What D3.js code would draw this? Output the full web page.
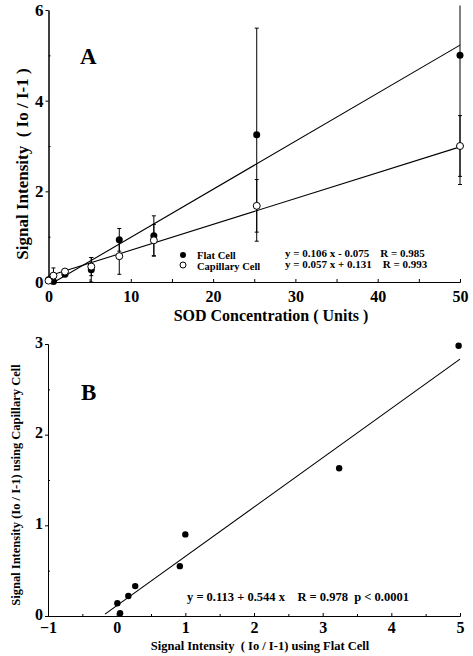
<!DOCTYPE html>
<html>
<head>
<meta charset="utf-8">
<script src="https://cdn.jsdelivr.net/npm/d3@7"></script>
<style>
  body { margin: 0; background: #fff; }
  svg { display: block; }
  svg text { font-family: "Liberation Serif", "DejaVu Serif", serif !important; font-weight: bold; fill: #000; }
  .axis path, .axis line { stroke: #000; stroke-width: 1; }
</style>
</head>
<body>
<script>
// panel A data - SOD concentration vs signal
var conc    = [0, 0.6, 2, 5.2, 8.6, 12.8, 25.3, 50];
var flat    = [0.05, 0.01, 0.17, 0.27, 0.93, 1.02, 3.25, 5.0];
var flatErr = [0.03, 0.03, 0.05, 0.27, 0.25, 0.44, 2.35, 2.85];
var cap     = [0.03, 0.14, 0.23, 0.34, 0.57, 0.92, 1.68, 3.0];
var capErr  = [0.02, 0.17, 0.05, 0.2, 0.4, 0.35, 0.58, 0.67];
var fitFlat = [0.106, -0.075];
var fitCap  = [0.057, 0.131];

// panel B data - capillary vs flat
var bFlat = [0.01, 0.05, 0.17, 0.27, 0.92, 1.0, 3.24, 4.98];
var bCap  = [0.14, 0.03, 0.22, 0.33, 0.55, 0.9, 1.63, 2.98];
var fitB  = [0.544, 0.113];

var width = 473, height = 656;
var serif = "'Liberation Serif', serif";

var svg = d3.select("body").append("svg")
    .attr("width", width)
    .attr("height", height);

//helper to style axis labels
function axisText(g, size){
    g.attr("font-family", serif);
    g.selectAll("text")
        .style("font-family", serif)
        .style("font-weight", "bold")
        .style("font-size", size);
}

// ---------- panel A ----------
var xA = d3.scaleLinear().domain([0, 50]).range([48.5, 460]);
var yA = d3.scaleLinear().domain([0, 6]).range([282, 10]);

var gA = svg.append("g");

// minor ticks (inward)
gA.append("g").attr("class", "axis")
    .attr("transform", "translate(0,282)")
    .call(d3.axisBottom(xA).tickValues([5, 15, 25, 35, 45]).tickSize(-3).tickSizeOuter(0).tickFormat(""));
gA.append("g").attr("class", "axis")
    .attr("transform", "translate(48.5,0)")
    .call(d3.axisLeft(yA).tickValues([1, 3, 5]).tickSize(-2).tickSizeOuter(0).tickFormat(""));

// major axes
gA.append("g").attr("class", "axis")
    .attr("transform", "translate(0,282)")
    .call(d3.axisBottom(xA).tickValues([0, 10, 20, 30, 40, 50]).tickSize(-3).tickSizeOuter(0).tickPadding(9)
        .tickFormat(d3.format("d")))
    .call(axisText, "16px");
gA.append("g").attr("class", "axis")
    .attr("transform", "translate(48.5,0)")
    .call(d3.axisLeft(yA).tickValues([0, 2, 4, 6]).tickSize(3).tickSizeOuter(0).tickPadding(2)
        .tickFormat(d3.format("d")))
    .call(axisText, "17px");

// fit lines
var lineA = d3.line().x(function(d){ return xA(d[0]); }).y(function(d){ return yA(d[1]); });
gA.append("path")
    .datum([[0.7, fitFlat[0]*0.7 + fitFlat[1]], [50, fitFlat[0]*50 + fitFlat[1]]])
    .attr("d", lineA).attr("fill", "none").attr("stroke", "#000").attr("stroke-width", 1.1);
gA.append("path")
    .datum([[0, fitCap[1]], [50, fitCap[0]*50 + fitCap[1]]])
    .attr("d", lineA).attr("fill", "none").attr("stroke", "#000").attr("stroke-width", 1.1);

// error bars
function errBars(vals, errs){
    conc.forEach(function(c, i){
        var top = Math.min(vals[i] + errs[i], 6.1),
            bot = Math.max(vals[i] - errs[i], 0);
        gA.append("line")
            .attr("x1", xA(c)).attr("x2", xA(c))
            .attr("y1", yA(top)).attr("y2", yA(bot))
            .attr("stroke", "#000").attr("stroke-width", 1);
        [top, bot].forEach(function(v){
            if (v >= 6.1) return;
            gA.append("line")
                .attr("x1", xA(c) - 2).attr("x2", xA(c) + 2)
                .attr("y1", yA(v)).attr("y2", yA(v))
                .attr("stroke", "#000").attr("stroke-width", 1);
        });
    });
}
errBars(flat, flatErr);
errBars(cap, capErr);

// markers
gA.selectAll(".flatPt")
    .data(conc)
    .enter()
    .append("circle")
    .attr("class", "flatPt")
    .attr("cx", function(d){ return xA(d); })
    .attr("cy", function(d, i){ return yA(flat[i]); })
    .attr("r", 3.5)
    .attr("fill", "#000");
gA.selectAll(".capPt")
    .data(conc)
    .enter()
    .append("circle")
    .attr("class", "capPt")
    .attr("cx", function(d){ return xA(d); })
    .attr("cy", function(d, i){ return yA(cap[i]); })
    .attr("r", 3.5)
    .attr("fill", "#fff")
    .attr("stroke", "#000")
    .attr("stroke-width", 1);

// legend + equations
gA.append("circle").attr("cx", 183).attr("cy", 255).attr("r", 3).attr("fill", "#000");
gA.append("circle").attr("cx", 183).attr("cy", 265).attr("r", 3).attr("fill", "#fff").attr("stroke", "#000");
gA.append("text").attr("x", 197).attr("y", 259).style("font-size", "10.5px").text("Flat Cell");
gA.append("text").attr("x", 197).attr("y", 269.5).style("font-size", "10.5px").text("Capillary Cell");
gA.append("text").attr("x", 285).attr("y", 257).style("font-size", "11px").attr("xml:space", "preserve")
    .text("y = 0.106 x - 0.075    R = 0.985");
gA.append("text").attr("x", 285).attr("y", 268).style("font-size", "11px").attr("xml:space", "preserve")
    .text("y = 0.057 x + 0.131    R = 0.993");

gA.append("text").attr("x", 80).attr("y", 64).style("font-size", "23px").text("A");

gA.append("text")
    .attr("text-anchor", "middle")
    .attr("x", 271).attr("y", 321)
    .style("font-size", "16px")
    .text("SOD Concentration ( Units )");
gA.append("text")
    .attr("text-anchor", "middle")
    .attr("transform", "translate(28,164) rotate(-90)")
    .attr("xml:space", "preserve")
    .style("font-size", "17px")
    .text("Signal Intensity  ( Io / I-1 )");

// ---------- panel B ----------
var xB = d3.scaleLinear().domain([-1, 5]).range([48, 460]);
var yB = d3.scaleLinear().domain([0, 3]).range([616, 344]);

var gB = svg.append("g");

gB.append("g").attr("class", "axis")
    .attr("transform", "translate(0,616)")
    .call(d3.axisBottom(xB).tickValues([-0.5, 0.5, 1.5, 2.5, 3.5, 4.5]).tickSize(-2).tickSizeOuter(0).tickFormat(""));
gB.append("g").attr("class", "axis")
    .attr("transform", "translate(48,0)")
    .call(d3.axisLeft(yB).tickValues([0.5, 1.5, 2.5]).tickSize(-2).tickSizeOuter(0).tickFormat(""));

gB.append("g").attr("class", "axis")
    .attr("transform", "translate(0,616)")
    .call(d3.axisBottom(xB).tickValues([-1, 0, 1, 2, 3, 4, 5]).tickSize(-3).tickSizeOuter(0).tickPadding(6)
        .tickFormat(d3.format("d")))
    .call(axisText, "16px");
gB.append("g").attr("class", "axis")
    .attr("transform", "translate(48,0)")
    .call(d3.axisLeft(yB).tickValues([0, 1, 2, 3]).tickSize(3).tickSizeOuter(0).tickPadding(2)
        .tickFormat(d3.format("d")))
    .call(axisText, "16px")
    .selectAll("text").attr("dy", "0.2em");

var lineB = d3.line().x(function(d){ return xB(d[0]); }).y(function(d){ return yB(d[1]); });
gB.append("path")
    .datum([[-0.17, fitB[0]*-0.17 + fitB[1]], [5, fitB[0]*5 + fitB[1]]])
    .attr("d", lineB).attr("fill", "none").attr("stroke", "#000").attr("stroke-width", 1.1);

gB.selectAll(".bPt")
    .data(bFlat)
    .enter()
    .append("circle")
    .attr("class", "bPt")
    .attr("cx", function(d){ return xB(d); })
    .attr("cy", function(d, i){ return yB(bCap[i]); })
    .attr("r", 3.2)
    .attr("fill", "#000");

gB.append("text").attr("x", 187).attr("y", 601).style("font-size", "12.5px").attr("xml:space", "preserve")
    .text("y = 0.113 + 0.544 x    R = 0.978  p < 0.0001");

gB.append("text").attr("x", 81).attr("y", 400).style("font-size", "23px").text("B");

gB.append("text")
    .attr("text-anchor", "middle")
    .attr("x", 260).attr("y", 650)
    .attr("xml:space", "preserve")
    .style("font-size", "12.5px")
    .text("Signal Intensity  ( Io / I-1) using Flat Cell");
gB.append("text")
    .attr("text-anchor", "middle")
    .attr("transform", "translate(20,485) rotate(-90)")
    .style("font-size", "12.5px")
    .text("Signal Intensity (Io / I-1) using Capillary Cell");
</script>
</body>
</html>
